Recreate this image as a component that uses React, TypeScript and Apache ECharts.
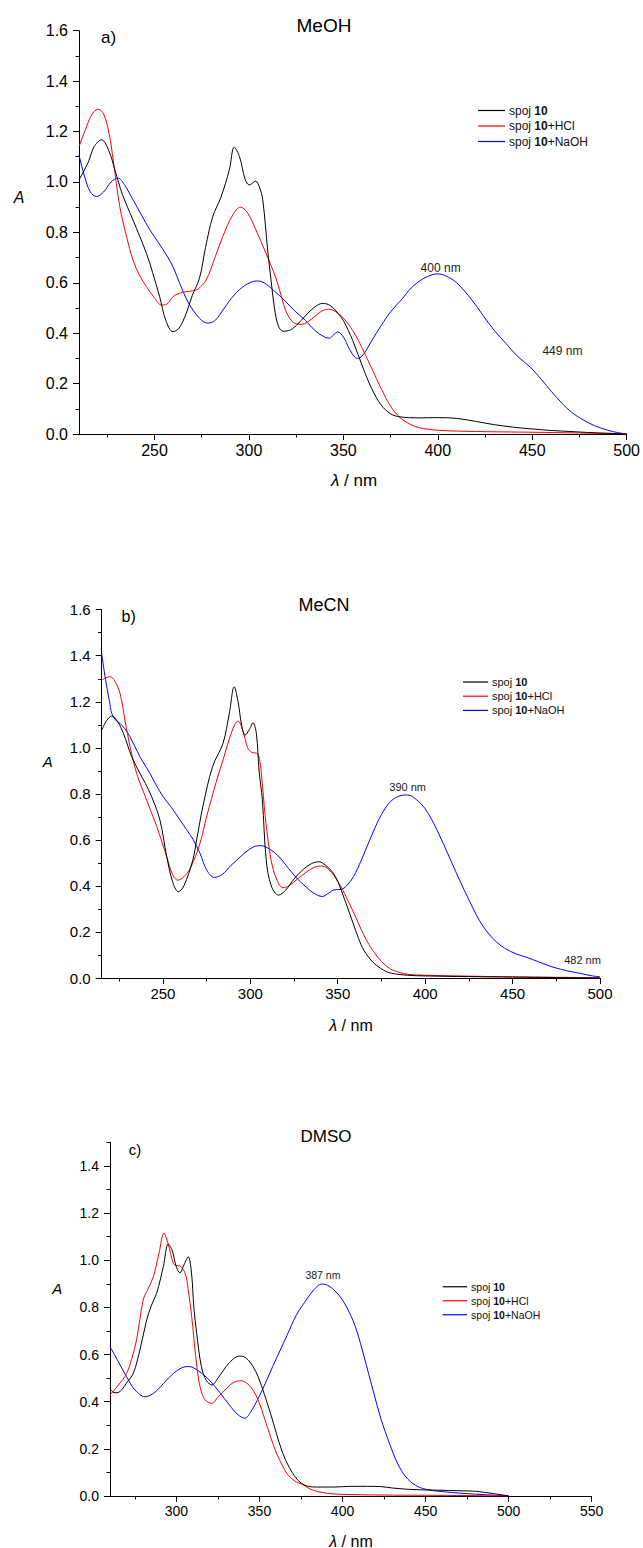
import React, { useEffect, useRef } from "react";
import * as echarts from "echarts";

const FONT = "Liberation Sans, Arial, Helvetica, sans-serif";

// ---------- Panel a) MeOH ----------
const aBlackX = [210, 215, 218, 222, 226, 229, 233, 238.6, 245.7, 249, 252.7, 256, 259.8, 263, 266.8, 270, 273.8, 277, 280.8, 285.2, 289.6, 292.2, 295, 298, 300.2, 303.5, 305.5, 307.3, 309.9, 311.7, 313.5, 315.5, 318, 321, 325, 330, 335, 339, 343, 347, 350, 355, 360, 365, 370, 375, 380, 390, 400, 410, 420, 430, 440, 450, 460, 470, 480, 490, 500];
const aBlackY = [1.008, 1.08, 1.14, 1.167, 1.12, 1.048, 0.95, 0.849, 0.717, 0.64, 0.545, 0.45, 0.406, 0.42, 0.479, 0.55, 0.618, 0.74, 0.862, 0.94, 1.048, 1.138, 1.1, 1.01, 0.988, 1.003, 0.98, 0.929, 0.73, 0.61, 0.5, 0.43, 0.408, 0.41, 0.43, 0.47, 0.505, 0.518, 0.51, 0.48, 0.45, 0.37, 0.27, 0.18, 0.115, 0.08, 0.068, 0.064, 0.065, 0.062, 0.05, 0.037, 0.027, 0.02, 0.014, 0.01, 0.006, 0.003, 0.0];
const aRedX = [210, 213, 217, 220.2, 223, 226, 228.1, 231.6, 235.2, 238.6, 242, 245.7, 250, 253.6, 256.5, 259.8, 263, 266.8, 270, 273, 277.3, 282, 286.1, 291.4, 295.5, 299, 303.7, 309, 314.3, 317, 320, 324, 328, 333, 338, 342, 346, 350, 355, 360, 365, 370, 375, 380, 385, 390, 400, 420, 450, 475, 500];
const aRedY = [1.14, 1.2, 1.27, 1.288, 1.27, 1.19, 1.087, 0.902, 0.783, 0.69, 0.63, 0.585, 0.54, 0.512, 0.515, 0.545, 0.558, 0.565, 0.568, 0.575, 0.611, 0.7, 0.783, 0.869, 0.9, 0.88, 0.81, 0.717, 0.618, 0.55, 0.48, 0.44, 0.435, 0.455, 0.485, 0.495, 0.485, 0.46, 0.41, 0.34, 0.26, 0.18, 0.11, 0.065, 0.04, 0.025, 0.015, 0.01, 0.007, 0.004, 0.0];
const aBlueX = [210, 213, 216, 219.3, 223, 227, 230.7, 234, 238.6, 243, 247.5, 252, 256.3, 260, 263.3, 268, 273.8, 278, 282, 287, 292, 298, 304, 308, 313, 318.6, 324, 330, 335, 340, 342.5, 345, 347, 350, 353, 356, 358, 361, 365, 370, 375, 381, 386, 392, 397, 400, 404, 410, 418, 424, 430, 436, 442, 449, 455, 460, 466, 471, 477, 483, 490, 495, 500];
const aBlueY = [1.107, 1.02, 0.96, 0.942, 0.96, 1.0, 1.015, 0.99, 0.929, 0.87, 0.81, 0.76, 0.71, 0.66, 0.598, 0.52, 0.459, 0.44, 0.45, 0.5, 0.55, 0.59, 0.607, 0.6, 0.57, 0.532, 0.49, 0.45, 0.41, 0.385, 0.38, 0.395, 0.405, 0.385, 0.34, 0.305, 0.3, 0.32, 0.37, 0.43, 0.485, 0.535, 0.58, 0.615, 0.632, 0.635, 0.628, 0.6, 0.532, 0.47, 0.41, 0.36, 0.31, 0.265, 0.215, 0.17, 0.12, 0.085, 0.056, 0.033, 0.015, 0.006, 0.0];
const aNotes = [
  { text: "400 nm", x: 401.5, y: 0.658 },
  { text: "449 nm", x: 466, y: 0.33 },
];

// ---------- Panel b) MeCN ----------
const bBlackX = [215, 218, 220.7, 224, 227.4, 232.2, 236.9, 240, 243.6, 248.3, 252.2, 255.5, 258.8, 262, 267.1, 269.3, 273, 278.4, 284.4, 288, 290.8, 293, 295, 297, 299.5, 301.5, 303.5, 305, 306.9, 309.1, 312, 316.1, 320, 325, 330, 335, 339.3, 343, 347, 350, 354, 358.6, 362, 365, 370, 375, 380, 390, 400, 425, 450, 475, 500];
const bBlackY = [1.077, 1.12, 1.138, 1.115, 1.063, 0.961, 0.889, 0.845, 0.787, 0.686, 0.527, 0.42, 0.375, 0.4, 0.512, 0.6, 0.75, 0.918, 1.02, 1.15, 1.265, 1.2, 1.1, 1.055, 1.08, 1.109, 1.06, 0.9, 0.773, 0.512, 0.4, 0.36, 0.38, 0.43, 0.47, 0.497, 0.505, 0.49, 0.46, 0.42, 0.34, 0.242, 0.17, 0.12, 0.07, 0.04, 0.022, 0.012, 0.009, 0.006, 0.004, 0.002, 0.0];
const bRedX = [215, 219.7, 222.5, 225.5, 228.3, 231.2, 235, 240.7, 246.5, 252.2, 255.5, 258.5, 262, 266, 271.2, 275, 280.8, 284.5, 287.8, 291, 293, 295.5, 298.5, 301, 304, 305.5, 307, 309, 311.9, 315, 318.7, 322, 327, 332, 337, 341.2, 345, 350, 355, 361.6, 366, 370, 375, 380, 385, 390, 400, 425, 450, 475, 500];
const bRedY = [1.294, 1.309, 1.29, 1.236, 1.12, 1.005, 0.889, 0.773, 0.657, 0.527, 0.45, 0.425, 0.44, 0.482, 0.585, 0.7, 0.86, 0.95, 1.034, 1.1, 1.116, 1.08, 1.0, 0.98, 0.975, 0.94, 0.83, 0.67, 0.512, 0.43, 0.392, 0.4, 0.43, 0.46, 0.482, 0.486, 0.47, 0.42, 0.35, 0.242, 0.17, 0.12, 0.072, 0.04, 0.025, 0.016, 0.012, 0.008, 0.005, 0.003, 0.001];
const bBlueX = [215, 216.5, 217.9, 219.5, 220.7, 223, 225.5, 228, 231.2, 236.9, 242.6, 246, 250.2, 255, 259.8, 263.5, 267.4, 271.2, 275, 279.4, 284, 289, 292.3, 297, 302, 306, 311, 316, 322, 327, 332, 336, 341.2, 345, 348, 351.9, 355, 359, 363.5, 370, 375, 380, 385, 390.1, 395, 400, 405, 410, 415, 420, 425, 431, 436, 441, 446, 452, 458, 465, 472, 478, 484, 490, 495, 500];
const bBlueY = [1.41, 1.33, 1.265, 1.2, 1.15, 1.12, 1.106, 1.085, 1.048, 0.961, 0.889, 0.84, 0.787, 0.74, 0.686, 0.645, 0.6, 0.542, 0.47, 0.437, 0.45, 0.49, 0.512, 0.545, 0.57, 0.575, 0.56, 0.53, 0.475, 0.43, 0.395, 0.37, 0.354, 0.37, 0.383, 0.385, 0.4, 0.44, 0.512, 0.63, 0.71, 0.765, 0.79, 0.795, 0.775, 0.735, 0.67, 0.59, 0.505, 0.42, 0.34, 0.25, 0.195, 0.155, 0.127, 0.105, 0.09, 0.07, 0.05, 0.037, 0.027, 0.018, 0.01, 0.005];
const bNotes = [
  { text: "390 nm", x: 390, y: 0.828 },
  { text: "482 nm", x: 490, y: 0.078 },
];

// ---------- Panel c) DMSO ----------
const cBlackX = [260, 262, 264.1, 267, 270, 274, 278, 282.1, 285, 288.1, 292.1, 295.1, 297.5, 300, 302.1, 304.5, 307.1, 309, 310.5, 312.2, 315, 318, 321.4, 325, 330, 334, 338.1, 342, 346, 349.2, 353, 356.6, 360, 364, 368, 371.4, 375, 378.8, 385, 395, 405, 415, 423, 430, 440.4, 455, 472.5, 480, 490, 500];
const cBlackY = [0.455, 0.44, 0.438, 0.45, 0.48, 0.52, 0.619, 0.747, 0.81, 0.86, 0.973, 1.069, 1.04, 0.97, 0.947, 0.98, 1.015, 0.95, 0.8, 0.69, 0.55, 0.49, 0.471, 0.5, 0.55, 0.58, 0.594, 0.585, 0.55, 0.506, 0.43, 0.351, 0.27, 0.181, 0.12, 0.082, 0.055, 0.042, 0.038, 0.038, 0.041, 0.041, 0.04, 0.034, 0.028, 0.025, 0.022, 0.02, 0.011, 0.0];
const cRedX = [260, 265, 270, 273, 276, 280, 283, 286.1, 289.5, 292.5, 295, 298.1, 300, 302.1, 305.2, 307, 309.2, 311.5, 313.8, 317, 321.4, 325, 330, 334, 338.8, 343, 346, 349.2, 353, 356.6, 361, 366.5, 371, 376.4, 382, 391.3, 400, 425, 450, 475, 500];
const cRedY = [0.428, 0.47, 0.52, 0.58, 0.662, 0.832, 0.88, 0.93, 1.03, 1.115, 1.07, 0.987, 0.978, 0.976, 0.945, 0.88, 0.76, 0.6, 0.478, 0.41, 0.393, 0.42, 0.455, 0.48, 0.489, 0.475, 0.45, 0.407, 0.33, 0.252, 0.17, 0.096, 0.065, 0.047, 0.025, 0.011, 0.007, 0.004, 0.003, 0.002, 0.0];
const cBlueX = [260, 265, 270, 275, 281.1, 287, 294.1, 300, 306.2, 310, 315.3, 320, 326, 332, 337, 341.1, 345, 351.7, 358, 366.5, 372, 378.8, 383, 387.4, 392, 398.5, 404, 408.4, 413, 418.3, 423, 428.2, 433, 438, 444, 450.4, 458, 465.8, 475, 485, 500];
const cBlueY = [0.634, 0.57, 0.506, 0.45, 0.421, 0.44, 0.492, 0.53, 0.549, 0.545, 0.52, 0.49, 0.44, 0.385, 0.345, 0.33, 0.36, 0.45, 0.55, 0.68, 0.765, 0.838, 0.877, 0.899, 0.89, 0.846, 0.78, 0.704, 0.59, 0.45, 0.33, 0.224, 0.14, 0.082, 0.045, 0.028, 0.02, 0.015, 0.01, 0.006, 0.0];
const cNotes = [{ text: "387 nm", x: 388.2, y: 0.936 }];

// ---------- Axis ticks ----------
const xMajorAB = [250, 300, 350, 400, 450, 500];
const xMinorAB = [225, 275, 325, 375, 425, 475];
const xMajorC = [300, 350, 400, 450, 500, 550];
const xMinorC = [275, 325, 375, 425, 475, 525];
const yMajorAB = [0, 0.2, 0.4, 0.6, 0.8, 1.0, 1.2, 1.4, 1.6];
const yMinorAB = [0.1, 0.3, 0.5, 0.7, 0.9, 1.1, 1.3, 1.5];
const yMajorC = [0, 0.2, 0.4, 0.6, 0.8, 1.0, 1.2, 1.4];
const yMinorC = [0.1, 0.3, 0.5, 0.7, 0.9, 1.1, 1.3, 1.5];

const seriesNames = ["spoj 10", "spoj 10+HCl", "spoj 10+NaOH"];
const seriesColors = ["#000000", "#ff0000", "#0000ff"];

const zip = (xs: number[], ys: number[]) => xs.map((x, i) => [x, ys[i]]);

function xAxes(gi: number, min: number, max: number, majors: number[], minors: number[], fs: number) {
  return [
    {
      type: "value", gridIndex: gi, min, max, position: "bottom",
      axisLine: { show: true, onZero: false, lineStyle: { color: "#000", width: 1 } },
      axisTick: { show: true, customValues: majors, length: 6, lineStyle: { color: "#000", width: 1 } },
      axisLabel: { show: true, customValues: majors, fontSize: fs, fontFamily: FONT, color: "#000", margin: 8 },
      splitLine: { show: false },
    },
    {
      type: "value", gridIndex: gi, min, max, position: "bottom",
      axisLine: { show: false, onZero: false },
      axisTick: { show: true, customValues: minors, length: 3.5, lineStyle: { color: "#000", width: 1 } },
      axisLabel: { show: false },
      splitLine: { show: false },
    },
  ];
}

function yAxes(gi: number, max: number, majors: number[], minors: number[], fs: number) {
  return [
    {
      type: "value", gridIndex: gi, min: 0, max, position: "left",
      axisLine: { show: true, onZero: false, lineStyle: { color: "#000", width: 1 } },
      axisTick: { show: true, customValues: majors, length: 6, lineStyle: { color: "#000", width: 1 } },
      axisLabel: {
        show: true, customValues: majors, fontSize: fs, fontFamily: FONT, color: "#000", margin: 11,
        formatter: (v: number) => v.toFixed(1),
      },
      splitLine: { show: false },
    },
    {
      type: "value", gridIndex: gi, min: 0, max, position: "left",
      axisLine: { show: false, onZero: false },
      axisTick: { show: true, customValues: minors, length: 3.5, lineStyle: { color: "#000", width: 1 } },
      axisLabel: { show: false },
      splitLine: { show: false },
    },
  ];
}

function panelSeries(
  gi: number,
  data: number[][][],
  notes: { text: string; x: number; y: number }[],
  noteSize: number
) {
  return data.map((d, i) => ({
    type: "line",
    name: seriesNames[i],
    xAxisIndex: gi * 2,
    yAxisIndex: gi * 2,
    data: d,
    smooth: 0.35,
    showSymbol: false,
    symbol: "none",
    color: seriesColors[i],
    lineStyle: { color: seriesColors[i], width: 1 },
    z: 3 - i,
    markPoint:
      i === 2
        ? {
            symbol: "circle",
            symbolSize: 0,
            label: {
              show: true,
              position: "inside",
              color: "#222",
              fontSize: noteSize,
              fontFamily: FONT,
              formatter: (p: any) => p.name,
            },
            data: notes.map((n) => ({ name: n.text, coord: [n.x, n.y] })),
          }
        : undefined,
  }));
}

function legendFor(left: number, top: number, iconW: number, fs: number, gap: number) {
  return {
    data: seriesNames,
    orient: "vertical",
    left,
    top,
    padding: 0,
    icon: "rect",
    itemWidth: iconW,
    itemHeight: 1.2,
    itemGap: gap,
    selectedMode: false,
    formatter: (name: string) => {
      const rest = name.replace("spoj 10", "");
      return rest ? `{n|spoj }{b|10}{n|${rest}}` : `{n|spoj }{b|10}`;
    },
    textStyle: {
      fontFamily: FONT,
      fontSize: fs,
      lineHeight: fs + 1,
      color: "#111",
      padding: [0, 0, 0, -1],
      rich: {
        n: { fontFamily: FONT, fontSize: fs, color: "#111", lineHeight: fs + 1 },
        b: { fontFamily: FONT, fontSize: fs, fontWeight: "bold", color: "#111", lineHeight: fs + 1 },
      },
    },
  };
}

function txt(text: string, x: number, y: number, fs: number, extra: any = {}) {
  return {
    type: "text",
    x,
    y,
    silent: true,
    style: {
      text,
      fontSize: fs,
      fontFamily: FONT,
      fill: "#000",
      align: "center",
      verticalAlign: "middle",
      ...extra,
    },
  };
}

function lambdaLabel(x: number, y: number, fs: number) {
  return txt("{i|λ} / nm", x, y, fs, {
    rich: {
      i: { fontStyle: "italic", fontSize: fs, fontFamily: FONT, fill: "#000" },
    },
  });
}

export default function App() {
  const ref = useRef<HTMLDivElement>(null);
  useEffect(() => {
    if (!ref.current) return;
    const chart = echarts.init(ref.current, undefined, { renderer: "svg" });
    const option: any = {
      animation: false,
      backgroundColor: "#ffffff",
      grid: [
        { left: 79, top: 30.7, width: 549.7, height: 403.3 },
        { left: 101.7, top: 609.7, width: 498.3, height: 368.3 },
        { left: 110, top: 1142.4, width: 481.7, height: 353.6 },
      ],
      xAxis: [
        ...xAxes(0, 210, 500, xMajorAB, xMinorAB, 16),
        ...xAxes(1, 215, 500, xMajorAB, xMinorAB, 15),
        ...xAxes(2, 260, 550, xMajorC, xMinorC, 14),
      ],
      yAxis: [
        ...yAxes(0, 1.6, yMajorAB, yMinorAB, 16),
        ...yAxes(1, 1.6, yMajorAB, yMinorAB, 15),
        ...yAxes(2, 1.5, yMajorC, yMinorC, 14),
      ],
      legend: [
        legendFor(478, 104, 27, 12, 2.5),
        legendFor(463, 676, 25, 11, 2.2),
        legendFor(442.6, 1281, 24.5, 10.5, 2.5),
      ],
      series: [
        ...panelSeries(0, [zip(aBlackX, aBlackY), zip(aRedX, aRedY), zip(aBlueX, aBlueY)], aNotes, 12),
        ...panelSeries(1, [zip(bBlackX, bBlackY), zip(bRedX, bRedY), zip(bBlueX, bBlueY)], bNotes, 11),
        ...panelSeries(2, [zip(cBlackX, cBlackY), zip(cRedX, cRedY), zip(cBlueX, cBlueY)], cNotes, 10.5),
      ],
      graphic: [
        txt("MeOH", 324, 25, 19),
        txt("a)", 108.5, 37.3, 17),
        txt("A", 19, 197, 16, { fontStyle: "italic" }),
        lambdaLabel(354, 480, 17),
        txt("MeCN", 324, 605, 18),
        txt("b)", 128.7, 616.7, 16),
        txt("A", 47.7, 761.7, 15, { fontStyle: "italic" }),
        lambdaLabel(351, 1025, 16),
        txt("DMSO", 326, 1136.7, 17),
        txt("c)", 135, 1149, 15),
        txt("A", 57.3, 1288.3, 15, { fontStyle: "italic" }),
        lambdaLabel(351, 1541, 16),
      ],
    };
    chart.setOption(option);
    return () => chart.dispose();
  }, []);
  return (
    <div
      ref={ref}
      style={{ position: "absolute", left: 0, top: 0, width: 643, height: 1548, background: "#fff" }}
    />
  );
}
